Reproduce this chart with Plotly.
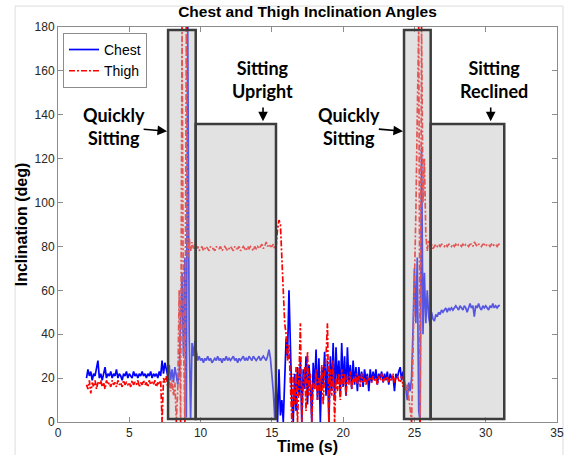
import plotly.graph_objects as go

# ---------------- data ----------------
time_s = [
    2.0, 2.1, 2.2, 2.3, 2.4, 2.5, 2.6, 2.7, 2.8, 2.9,
    3.0, 3.1, 3.2, 3.3, 3.4, 3.5, 3.6, 3.7, 3.8, 3.9,
    4.0, 4.1, 4.2, 4.3, 4.4, 4.5, 4.6, 4.7, 4.8, 4.9,
    5.0, 5.1, 5.2, 5.3, 5.4, 5.5, 5.6, 5.7, 5.8, 5.9,
    6.0, 6.1, 6.2, 6.3, 6.4, 6.5, 6.6, 6.7, 6.8, 6.9,
    7.0, 7.1, 7.2, 7.3, 7.4, 7.5, 7.6, 7.7, 7.8, 7.9,
    8.0, 8.1, 8.2, 8.3, 8.4, 8.5, 8.6, 8.7, 8.8, 8.9,
    9.0, 9.1, 9.2, 9.3, 9.4, 9.5, 9.6, 9.7, 9.8, 9.9,
    10.0, 10.1, 10.2, 10.3, 10.4, 10.5, 10.6, 10.7, 10.8, 10.9,
    11.0, 11.1, 11.2, 11.3, 11.4, 11.5, 11.6, 11.7, 11.8, 11.9,
    12.0, 12.1, 12.2, 12.3, 12.4, 12.5, 12.6, 12.7, 12.8, 12.9,
    13.0, 13.1, 13.2, 13.3, 13.4, 13.5, 13.6, 13.7, 13.8, 13.9,
    14.0, 14.1, 14.2, 14.3, 14.4, 14.5, 14.6, 14.7, 14.8, 14.9,
    15.0, 15.1, 15.2, 15.3, 15.4, 15.5, 15.6, 15.7, 15.8, 15.9,
    16.0, 16.1, 16.2, 16.3, 16.4, 16.5, 16.6, 16.7, 16.8, 16.9,
    17.0, 17.1, 17.2, 17.3, 17.4, 17.5, 17.6, 17.7, 17.8, 17.9,
    18.0, 18.1, 18.2, 18.3, 18.4, 18.5, 18.6, 18.7, 18.8, 18.9,
    19.0, 19.1, 19.2, 19.3, 19.4, 19.5, 19.6, 19.7, 19.8, 19.9,
    20.0, 20.1, 20.2, 20.3, 20.4, 20.5, 20.6, 20.7, 20.8, 20.9,
    21.0, 21.1, 21.2, 21.3, 21.4, 21.5, 21.6, 21.7, 21.8, 21.9,
    22.0, 22.1, 22.2, 22.3, 22.4, 22.5, 22.6, 22.7, 22.8, 22.9,
    23.0, 23.1, 23.2, 23.3, 23.4, 23.5, 23.6, 23.7, 23.8, 23.9,
    24.0, 24.1, 24.2, 24.3, 24.4, 24.5, 24.6, 24.7, 24.8, 24.9,
    25.0, 25.1, 25.2, 25.3, 25.4, 25.5, 25.6, 25.7, 25.8, 25.9,
    26.0, 26.1, 26.2, 26.3, 26.4, 26.5, 26.6, 26.7, 26.8, 26.9,
    27.0, 27.1, 27.2, 27.3, 27.4, 27.5, 27.6, 27.7, 27.8, 27.9,
    28.0, 28.1, 28.2, 28.3, 28.4, 28.5, 28.6, 28.7, 28.8, 28.9,
    29.0, 29.1, 29.2, 29.3, 29.4, 29.5, 29.6, 29.7, 29.8, 29.9,
    30.0, 30.1, 30.2, 30.3, 30.4, 30.5, 30.6, 30.7, 30.8, 30.9,
    31.0,
]

chest_deg = [
    20, 24, 21, 23, 19, 22, 21, 24, 28, 20,
    22, 19, 23, 25, 20, 22, 21, 23, 20, 22,
    21, 24, 20, 22, 21, 19, 22, 21, 23, 20,
    22, 21, 20, 23, 21, 22, 20, 22, 21, 23,
    21, 22, 20, 22, 21, 23, 20, 22, 21, 22,
    20, 23, 21, 28, 22, 27, 24, 21, 26, 19,
    24, 18, 25, 21, 17, 22, 45, 68, 30, 75,
    2, 180, 40, 1, 36, 30, 37, 31, 28, 30,
    28, 29, 27, 29, 28, 30, 28, 29, 27, 28,
    29, 28, 30, 28, 29, 27, 29, 28, 30, 28,
    29, 28, 29, 30, 28, 29, 27, 29, 28, 29,
    30, 28, 29, 28, 30, 29, 28, 30, 29, 28,
    29, 30, 28, 29, 30, 29, 28, 30, 33, 29,
    22, 14, 2, 18, 0, 24, 3, 10, 0, 20,
    38, 30, 60, 35, 10, 0, 22, 5, 25, 12,
    28, 0, 24, 15, 30, 8, 26, 18, 0, 27,
    15, 33, 10, 29, 0, 25, 17, 32, 12, 28,
    0, 30, 14, 36, 10, 34, 18, 28, 12, 36,
    16, 30, 12, 34, 18, 26, 15, 28, 17, 25,
    14, 25, 18, 23, 16, 24, 19, 22, 14, 24,
    18, 23, 19, 24, 17, 22, 20, 23, 18, 22,
    19, 23, 17, 22, 20, 21, 14, 22, 20, 23,
    25, 19, 23, 18, 16, 10, 18, 14, 20, 42,
    70, 45, 75, 5, 0, 125, 40, 68, 45, 60,
    48, 44, 50, 47, 46, 49, 48, 50, 49, 51,
    50, 51, 52, 50, 52, 51, 52, 51, 52, 53,
    52, 51, 53, 52, 51, 53, 52, 50, 52, 54,
    52, 53, 48, 53, 52, 54, 52, 51, 53, 52,
    53, 52, 51, 53, 52, 54, 52, 53, 52, 53,
    53,
]

thigh_deg = [
    17, 15, 19, 13, 18, 16, 19, 15, 18, 17,
    19, 16, 18, 15, 19, 17, 18, 16, 19, 17,
    18, 16, 19, 17, 18, 16, 19, 17, 18, 17,
    18, 16, 19, 17, 18, 17, 19, 16, 18, 17,
    19, 17, 18, 16, 19, 17, 18, 17, 19, 16,
    18, 17, 19, 0, 20, 18, 21, 16, 20, 14,
    19, 12, 18, 0, 15, 60, 0, 180, 40, 0,
    180, 75, 84, 78, 82, 79, 81, 79, 80, 78,
    79, 80, 78, 79, 80, 79, 78, 80, 79, 79,
    78, 80, 79, 79, 80, 78, 79, 80, 79, 78,
    79, 80, 79, 78, 80, 79, 79, 80, 78, 79,
    80, 79, 78, 80, 79, 80, 79, 78, 80, 79,
    80, 79, 80, 81, 79, 80, 82, 80, 81, 80,
    80, 81, 79, 80, 88, 92, 90, 72, 55, 45,
    40, 28, 35, 12, 0, 22, 8, 25, 0, 20,
    45, 0, 18, 25, 5, 32, 12, 22, 0, 18,
    15, 24, 10, 20, 14, 26, 8, 22, 30, 45,
    0, 24, 12, 28, 0, 20, 14, 22, 10, 24,
    16, 22, 12, 21, 17, 23, 15, 20, 18, 22,
    17, 21, 16, 22, 18, 20, 17, 21, 19, 20,
    18, 21, 19, 20, 17, 21, 19, 22, 18, 20,
    19, 21, 18, 20, 19, 22, 18, 20, 21, 19,
    18, 21, 16, 19, 14, 17, 10, 6, 0, 30,
    55, 95, 140, 180, 0, 180, 100, 120, 85, 78,
    83, 80, 81, 79, 80, 81, 80, 81, 80, 81,
    81, 80, 81, 80, 81, 81, 80, 81, 80, 81,
    80, 81, 81, 80, 81, 80, 81, 81, 80, 81,
    81, 80, 82, 81, 80, 81, 81, 80, 81, 81,
    80, 81, 81, 80, 81, 80, 81, 81, 80, 81,
    81,
]

series_names = ["Chest", "Thigh"]
x_ticks = [0, 5, 10, 15, 20, 25, 30, 35]
y_ticks = [0, 20, 40, 60, 80, 100, 120, 140, 160, 180]

# phase boxes: (t_start, t_end, top_deg)
phase_start = [7.72, 9.66, 24.27, 26.14]
phase_end = [9.66, 15.29, 26.14, 31.30]
phase_top = [178.6, 135.8, 178.6, 135.8]
phase_bottom = [1.4, 1.4, 1.4, 1.4]

label_text = ["Quickly<br>Sitting", "Sitting<br>Upright", "Quickly<br>Sitting", "Sitting<br>Reclined"]
label_t = [3.93, 14.31, 20.41, 30.55]
label_deg = [134.5, 156.3, 134.5, 156.0]

# ---------------- figure ----------------
fig = go.Figure()
fig.add_trace(go.Scatter(
    x=time_s, y=chest_deg, mode="lines", name=series_names[0],
    line=dict(color="#0000ff", width=1.7),
))
fig.add_trace(go.Scatter(
    x=time_s, y=thigh_deg, mode="lines", name=series_names[1],
    line=dict(color="#ff0000", width=1.7, dash="6px,2px,2px,2px"),
))

for x0, x1, y0, y1 in zip(phase_start, phase_end, phase_bottom, phase_top):
    fig.add_shape(type="rect", xref="x", yref="y", x0=x0, x1=x1, y0=y0, y1=y1,
                  fillcolor="rgba(190,190,190,0.45)",
                  line=dict(color="#3c3c3c", width=2.5), layer="above")

# outer light frame of the figure window
fig.add_shape(type="rect", xref="paper", yref="paper",
              x0=-0.086, x1=1.012, y0=-0.12, y1=1.053,
              line=dict(color="#dcdcdc", width=1), fillcolor="rgba(0,0,0,0)", layer="below")

label_font = dict(family="Lato, Open Sans, sans-serif", size=18, color="black")
for txt, tx, ty in zip(label_text, label_t, label_deg):
    fig.add_annotation(x=tx, y=ty, xref="x", yref="y", text="<b>" + txt + "</b>",
                       showarrow=False, font=label_font, align="center")

# arrows (head, tail)
arrow_head = [(7.65, 132.5), (14.38, 137.0), (24.2, 132.5), (30.35, 137.0)]
arrow_tail = [(5.9, 133.5), (14.38, 144.0), (22.4, 133.5), (30.35, 144.0)]
for (hx, hy), (tx, ty) in zip(arrow_head, arrow_tail):
    fig.add_annotation(x=hx, y=hy, ax=tx, ay=ty, xref="x", yref="y", axref="x", ayref="y",
                       text="", showarrow=True, arrowhead=2, arrowsize=1.2,
                       arrowwidth=1.6, arrowcolor="black")

axis_common = dict(
    showline=True, linecolor="#8c8c8c", linewidth=1, mirror="ticks",
    ticks="inside", ticklen=5, tickcolor="#8c8c8c", showgrid=False, zeroline=False,
    automargin=False,
    tickfont=dict(family="Liberation Sans, Arial, sans-serif", size=12, color="#262626"),
)

fig.update_layout(
    width=574, height=455,
    margin=dict(l=58, r=17, t=27, b=33, autoexpand=False),
    paper_bgcolor="white", plot_bgcolor="white",
    title=dict(text="<b>Chest and Thigh Inclination Angles</b>", x=0.5, xref="paper",
               y=1 - 12 / 455, yref="container", yanchor="middle", automargin=False,
               font=dict(family="Liberation Sans, Arial, sans-serif", size=15.5, color="black")),
    xaxis=dict(range=[0, 35], tickvals=x_ticks,
               title=dict(text="<b>Time (s)</b>", standoff=2,
                          font=dict(family="Liberation Sans, Arial, sans-serif", size=16, color="black")),
               **axis_common),
    yaxis=dict(range=[0, 180], tickvals=y_ticks,
               title=dict(text="<b>Inclination (deg)</b>", standoff=2,
                          font=dict(family="Liberation Sans, Arial, sans-serif", size=16, color="black")),
               **axis_common),
    legend=dict(x=0.01, y=0.985, xanchor="left", yanchor="top",
                bgcolor="white", bordercolor="#8c8c8c", borderwidth=1,
                font=dict(family="Liberation Sans, Arial, sans-serif", size=14, color="black"),
                tracegroupgap=0, itemwidth=30),
    showlegend=True,
)

fig.write_html("out.html", config={"displayModeBar": False},
               post_script="document.body.style.margin='0px';")
